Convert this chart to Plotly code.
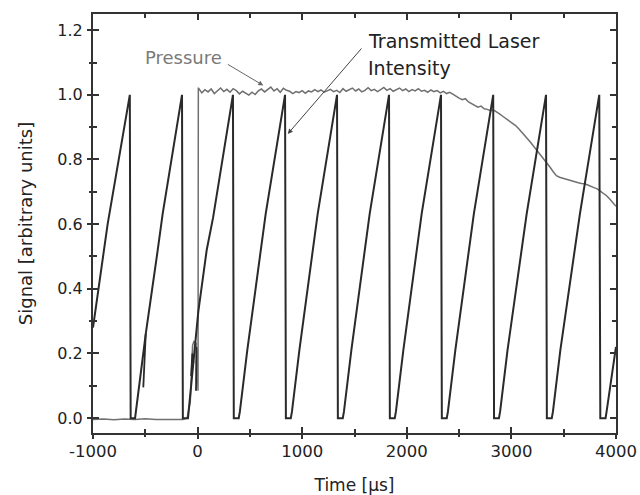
import plotly.graph_objects as go

# ---------------- data ----------------
x_ticks = [-1000, 0, 1000, 2000, 3000, 4000]
x_ticklabels = ["-1000", "0", "1000", "2000", "3000", "4000"]
x_minor = [-500, 500, 1500, 2500, 3500]
y_ticks = [0.0, 0.2, 0.4, 0.6, 0.8, 1.0, 1.2]
y_ticklabels = ["0.0", "0.2", "0.4", "0.6", "0.8", "1.0", "1.2"]
y_minor = [0.1, 0.3, 0.5, 0.7, 0.9, 1.1]

# transmitted laser intensity (sawtooth)
laser_t = [-1000, -860, -648,
           -645, -640, -598, -590, -496, -382, -334, -149,
           -146, -141, -92, 7, 87, 148, 338,
           341, 346, 393, 404, 475, 603, 651, 836,
           839, 844, 891, 902, 973, 1100, 1148, 1333,
           1336, 1341, 1388, 1399, 1470, 1597, 1645, 1830,
           1833, 1838, 1885, 1896, 1967, 2094, 2142, 2327,
           2330, 2335, 2382, 2393, 2464, 2593, 2641, 2826,
           2829, 2834, 2881, 2892, 2963, 3098, 3146, 3331,
           3334, 3339, 3386, 3397, 3468, 3607, 3655, 3840,
           3843, 3850, 3900, 3910, 3995, 4000]
laser_v = [0.28, 0.60, 1.0,
           0.02, 0.0, 0.0, 0.02, 0.26, 0.518, 0.632, 1.0,
           0.02, 0.0, 0.0, 0.33, 0.52, 0.62, 1.0,
           0.02, 0.0, 0.0, 0.02, 0.21, 0.518, 0.632, 1.0,
           0.02, 0.0, 0.0, 0.02, 0.21, 0.518, 0.632, 1.0,
           0.02, 0.0, 0.0, 0.02, 0.21, 0.518, 0.632, 1.0,
           0.02, 0.0, 0.0, 0.02, 0.21, 0.518, 0.632, 1.0,
           0.02, 0.0, 0.0, 0.02, 0.21, 0.518, 0.632, 1.0,
           0.02, 0.0, 0.0, 0.02, 0.21, 0.518, 0.632, 1.0,
           0.02, 0.0, 0.0, 0.02, 0.21, 0.518, 0.632, 1.0,
           0.02, 0.0, 0.0, 0.02, 0.21, 0.22]

# short stray strokes in the laser trace
stray_t = [-496, -519, None, -62, -50, -40, None, -15, -12]
stray_v = [0.26, 0.095, None, 0.13, 0.20, 0.17, None, 0.085, 0.22]

# pressure trace
pressure_t = [-1000, -900, -800, -700, -600, -500, -400, -300, -200, -140,
              -100, -70, -57, -48, -35, -15, -8, 0, 4, 7,
              10, 40, 70, 100, 130, 160, 190, 220, 250, 280,
              310, 340, 370, 400, 430, 460, 490, 520, 550, 580,
              610, 640, 670, 700, 730, 760, 790, 820, 850, 880,
              910, 940, 970, 1000, 1030, 1060, 1090, 1120, 1150, 1180,
              1210, 1240, 1270, 1300, 1330, 1360, 1390, 1420, 1450, 1480,
              1510, 1540, 1570, 1600, 1630, 1660, 1690, 1720, 1750, 1780,
              1810, 1840, 1870, 1900, 1930, 1960, 1990, 2020, 2050, 2080,
              2110, 2140, 2170, 2200, 2230, 2260, 2290, 2320, 2350, 2380,
              2410, 2440, 2470, 2500, 2530, 2560, 2590, 2620, 2650, 2680,
              2710, 2740, 2770, 2800, 2830, 2860, 2890, 2920, 2950, 2980,
              3010, 3040, 3070, 3100, 3130, 3160, 3190, 3220, 3250, 3280,
              3310, 3340, 3370, 3400, 3430, 3460, 3490, 3520, 3550, 3580,
              3610, 3640, 3670, 3700, 3730, 3760, 3790, 3820, 3850, 3880,
              3910, 3940, 3970, 4000]
pressure_v = [-0.004, -0.003, -0.005, -0.003, -0.004, -0.002, -0.004, -0.003, -0.004, -0.004,
              0.0, 0.05, 0.16, 0.225, 0.237, 0.232, 0.20, 0.10, 0.085, 1.02,
              1.020, 1.006, 1.016, 1.009, 1.018, 1.004, 1.014, 1.021, 1.010, 1.017,
              1.008, 1.019, 1.013, 1.003, 1.011, 1.006, 0.999, 1.008, 1.001, 1.012,
              1.018, 1.009, 1.016, 1.024, 1.012, 1.019, 1.008, 1.020, 1.014, 1.011,
              1.004, 1.010, 1.007, 1.013, 1.005, 1.012, 1.009, 1.016, 1.010, 1.015,
              1.008, 1.012, 1.017, 1.010, 1.014, 1.007, 1.019, 1.011, 1.015, 1.021,
              1.012, 1.018, 1.009, 1.014, 1.022, 1.013, 1.017, 1.010, 1.016, 1.023,
              1.014, 1.019, 1.011, 1.015, 1.021, 1.013, 1.018, 1.010, 1.016, 1.012,
              1.019, 1.011, 1.014, 1.008, 1.015, 1.010, 1.013, 1.006, 1.011, 1.004,
              1.008, 1.002, 0.995, 0.990, 0.985, 0.988, 0.978, 0.972, 0.968, 0.962,
              0.965, 0.957, 0.955, 0.951, 0.953, 0.945, 0.940, 0.933, 0.926, 0.920,
              0.912, 0.905, 0.895, 0.885, 0.873, 0.862, 0.850, 0.838, 0.826, 0.812,
              0.800, 0.790, 0.776, 0.762, 0.750, 0.745, 0.742, 0.738, 0.737, 0.733,
              0.731, 0.728, 0.726, 0.725, 0.721, 0.718, 0.713, 0.709, 0.702, 0.697,
              0.688, 0.678, 0.667, 0.655]

# ---------------- figure ----------------
LASER_C = "#2a2a2a"
PRESS_C = "#707070"
AX_C = "#333333"
FONT = "DejaVu Sans, Arial, sans-serif"
XR = [-1000, 4000]
YR = [-0.046, 1.25]

fig = go.Figure()
fig.add_trace(go.Scatter(x=pressure_t, y=pressure_v, mode="lines",
                         line=dict(color=PRESS_C, width=1.5), showlegend=False))
fig.add_trace(go.Scatter(x=laser_t, y=laser_v, mode="lines",
                         line=dict(color=LASER_C, width=2), showlegend=False))
fig.add_trace(go.Scatter(x=stray_t, y=stray_v, mode="lines",
                         line=dict(color=LASER_C, width=1.8), showlegend=False))
# dummy trace on overlay axes so they are drawn
fig.add_trace(go.Scatter(x=[None], y=[None], xaxis="x2", yaxis="y2",
                         showlegend=False, hoverinfo="skip"))

fig.update_layout(
    width=640, height=495,
    margin=dict(l=93, r=24, t=14, b=62, autoexpand=False),
    paper_bgcolor="white", plot_bgcolor="white",
    font=dict(family=FONT, size=16, color="#222"),
    xaxis=dict(range=XR, tickmode="array", tickvals=x_ticks, ticktext=x_ticklabels,
               ticks="inside", ticklen=6, tickwidth=1.5, tickcolor=AX_C,
               minor=dict(tickmode="array", tickvals=x_minor, ticks="inside",
                          ticklen=4, tickwidth=1.5, tickcolor=AX_C),
               showline=True, linewidth=2, linecolor=AX_C, mirror="ticks",
               showgrid=False, zeroline=False, automargin=False,
               ticklabelstandoff=2,
               tickfont=dict(size=16.5, color="#222"),
               title=dict(text="Time [\u03bcs]", font=dict(size=17, color="#222"), standoff=20)),
    yaxis=dict(range=YR, tickmode="array", tickvals=y_ticks, ticktext=y_ticklabels,
               ticks="inside", ticklen=6, tickwidth=1.5, tickcolor=AX_C,
               minor=dict(tickmode="array", tickvals=y_minor, ticks="inside",
                          ticklen=4, tickwidth=1.5, tickcolor=AX_C),
               showline=True, linewidth=2, linecolor=AX_C, mirror="ticks",
               showgrid=False, zeroline=False, automargin=False,
               ticklabelstandoff=5,
               tickfont=dict(size=16, color="#222"),
               title=dict(text="Signal [arbitrary units]", font=dict(size=18, color="#222"), standoff=20)),
    xaxis2=dict(range=XR, overlaying="x", side="bottom", tickmode="array",
                tickvals=x_ticks, ticks="outside", ticklen=5, tickwidth=1.5, tickcolor=AX_C,
                minor=dict(tickmode="array", tickvals=x_minor, ticks="outside",
                           ticklen=3, tickwidth=1.5, tickcolor=AX_C),
                showticklabels=False, showline=False, showgrid=False, zeroline=False,
                automargin=False),
    yaxis2=dict(range=YR, overlaying="y", side="left", tickmode="array",
                tickvals=y_ticks, ticks="outside", ticklen=5, tickwidth=1.5, tickcolor=AX_C,
                minor=dict(tickmode="array", tickvals=y_minor, ticks="outside",
                           ticklen=3, tickwidth=1.5, tickcolor=AX_C),
                showticklabels=False, showline=False, showgrid=False, zeroline=False,
                automargin=False),
)

# pressure label + arrow
fig.add_annotation(x=-135, y=1.115, text="Pressure", showarrow=False,
                   font=dict(size=18, color="#7a7a7a"), xanchor="center", yanchor="middle")
fig.add_annotation(x=628, y=1.029, ax=-37, ay=-22, text="", showarrow=True,
                   arrowhead=2, arrowsize=1, arrowwidth=1, arrowcolor="#666",
                   standoff=0, startstandoff=0)
# transmitted laser label (two lines) + arrow
fig.add_annotation(x=1610, y=1.165, text="Transmitted Laser", showarrow=False,
                   font=dict(size=19, color="#222"), xanchor="left", yanchor="middle")
fig.add_annotation(x=1610, y=1.0815, text="Intensity", showarrow=False,
                   font=dict(size=19, color="#222"), xanchor="left", yanchor="middle")
fig.add_annotation(x=862, y=0.879, ax=75, ay=-87, text="", showarrow=True,
                   arrowhead=2, arrowsize=1, arrowwidth=1, arrowcolor="#444",
                   standoff=0, startstandoff=0)

fig.write_html("out.html")
